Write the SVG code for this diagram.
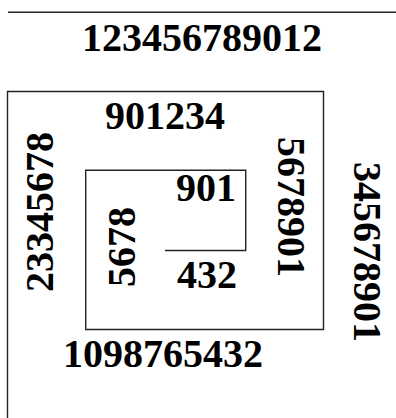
<svg xmlns="http://www.w3.org/2000/svg" width="396" height="418" viewBox="0 0 396 418">
<style>
.t{font-family:"Liberation Serif","Times New Roman",serif;font-weight:bold;font-size:40px;fill:#000}
.ln{fill:none;stroke:#222;stroke-width:1.4}
</style>
<rect width="396" height="418" fill="#fff"/>
<g id="lines">
<line class="ln" x1="8" y1="12.3" x2="396" y2="12.3"/>
<path class="ln" d="M7.5,418 V91.5 H323.5 V329.5 H85.7 V170.3 H245.7 V250.5 H165"/>
</g>
<g id="labels">
<text class="t" x="82" y="51">123456789012</text>
<text class="t" x="105" y="129">901234</text>
<text class="t" x="176" y="201">901</text>
<text class="t" x="177" y="288">432</text>
<text class="t" x="63" y="367">1098765432</text>
<text class="t" transform="translate(53,292) rotate(-90)">23345678</text>
<text class="t" transform="translate(135,287) rotate(-90)">5678</text>
<text class="t" transform="translate(278,137) rotate(90)">5678901</text>
<text class="t" transform="translate(354,162) rotate(90)">345678901</text>
</g>
</svg>
